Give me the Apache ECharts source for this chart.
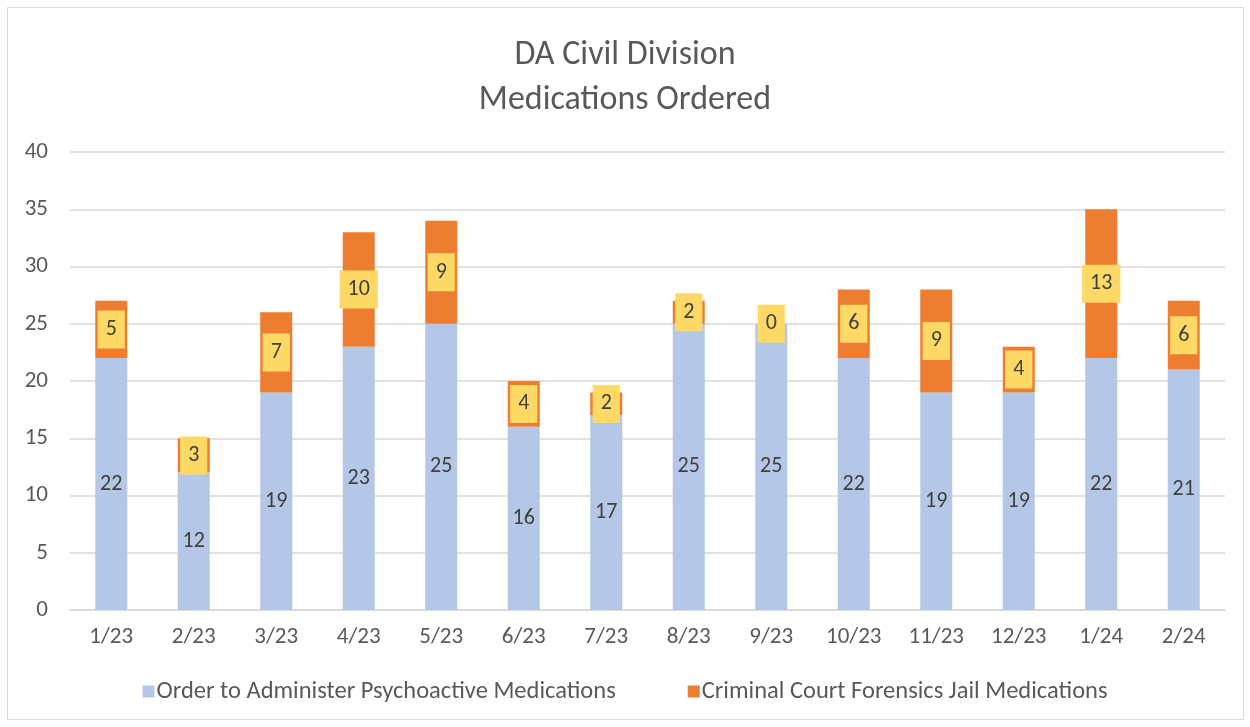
<!DOCTYPE html>
<html>
<head>
<meta charset="utf-8">
<script src="https://cdn.jsdelivr.net/npm/echarts@6/dist/echarts.min.js"></script>
<style>html,body{margin:0;padding:0;background:#fff;}#c{width:1250px;height:727px;}</style>
</head>
<body>
<div id="c"></div>
<script>
const categories = ['1/23','2/23','3/23','4/23','5/23','6/23','7/23','8/23','9/23','10/23','11/23','12/23','1/24','2/24'];
const orderValues = [22,12,19,23,25,16,17,25,25,22,19,19,22,21];
const jailValues = [5,3,7,10,9,4,2,2,0,6,9,4,13,6];
const yTicks = {min:0, max:40, interval:5};
const seriesNames = ['Order to Administer Psychoactive Medications','Criminal Court Forensics Jail Medications'];

const FONT = 'Carlito, Calibri, "Open Sans", "Noto Sans", sans-serif';
const chart = echarts.init(document.getElementById('c'), null, {renderer:'canvas'});
chart.setOption({
  backgroundColor:'#fff',
  animation:false,
  textStyle:{fontFamily:FONT},
  title:{
    text:'DA Civil Division\nMedications Ordered',
    left:'center', top:28,
    textStyle:{fontFamily:FONT, fontSize:34, fontWeight:'normal', color:'#595959', lineHeight:45}
  },
  graphic:[{type:'rect', shape:{x:7.5,y:7.5,width:1236,height:712}, style:{fill:'none', stroke:'#d9d9d9', lineWidth:1}, silent:true, z:-1}],
  grid:{left:70, right:25, top:152, bottom:117, containLabel:false},
  legend:{
    bottom:18, left:'center', itemWidth:12, itemHeight:12, itemGap:72,
    icon:'rect',
    textStyle:{fontFamily:FONT, fontSize:24.5, color:'#595959', padding:[0,0,0,-3]},
    data:seriesNames
  },
  xAxis:{
    type:'category', data:categories,
    axisLine:{lineStyle:{color:'#d9d9d9', width:1.5}},
    axisTick:{show:false},
    axisLabel:{fontFamily:FONT, fontSize:23, color:'#595959', margin:16}
  },
  yAxis:{
    type:'value', min:yTicks.min, max:yTicks.max, interval:yTicks.interval,
    axisLine:{show:false}, axisTick:{show:false},
    splitLine:{lineStyle:{color:'#d9d9d9', width:1.5}},
    axisLabel:{fontFamily:FONT, fontSize:23, color:'#595959', margin:22}
  },
  series:[
    {
      name:seriesNames[0], type:'bar', stack:'a', data:orderValues, barWidth:32,
      itemStyle:{color:'#B4C7E7'},
      label:{show:true, position:'inside', fontFamily:FONT, fontSize:22, color:'#404040'}
    },
    {
      name:seriesNames[1], type:'bar', stack:'a', data:jailValues, barWidth:32,
      itemStyle:{color:'#ED7D31'},
      label:{show:true, position:'inside', fontFamily:FONT, fontSize:22, color:'#404040',
        backgroundColor:'#FFD966', padding:[8,8,8,8]}
    }
  ]
});
</script>
</body>
</html>
